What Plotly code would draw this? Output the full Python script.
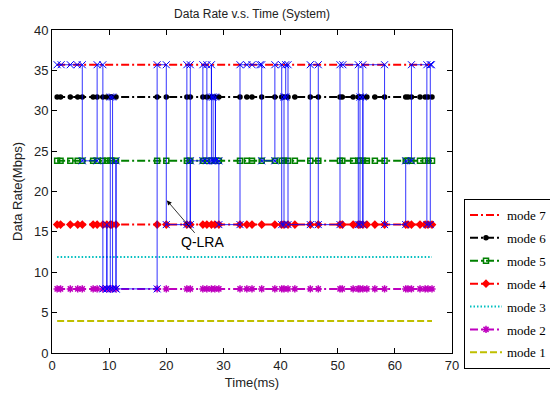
import plotly.graph_objects as go

# ---- data ----
mode_names = ["mode 7", "mode 6", "mode 5", "mode 4", "mode 3", "mode 2", "mode 1"]
mode_rates = [35.7, 31.7, 23.8, 15.9, 11.9, 7.94, 3.97]
mode_colors = ["#ff0000", "#000000", "#008000", "#ff0000", "#00bfbf", "#bf00bf", "#bfbf00"]

sample_times = [0.9, 1.5, 3.2, 4.5, 5.3, 7.2, 7.9, 8.9, 9.6, 10.2, 10.5, 11.2, 18.4, 20.0,
                23.6, 24.2, 26.4, 27.1, 27.9, 28.5, 29.2, 32.9, 34.1, 35.0, 36.7, 39.0,
                40.2, 40.6, 41.3, 42.5, 45.2, 46.6, 50.4, 50.8, 52.7, 53.6, 53.9, 54.4,
                55.1, 56.5, 58.2, 61.9, 62.3, 62.9, 64.4, 65.3, 65.8, 66.5]

# Q-LRA selected mode path (time, mode index into mode_rates)
qlra_times = [0.9, 1.6, 3.2, 4.4, 5.3, 5.3, 7.9, 7.9, 8.9, 8.9, 9.6, 9.6, 9.6, 10.2, 10.2,
              10.6, 10.6, 11.2, 11.2, 11.2, 18.4, 18.4, 20.0, 20.0, 23.6, 23.6, 24.2, 24.2,
              24.2, 26.4, 26.4, 27.1, 27.1, 27.9, 27.9, 27.9, 28.2, 28.2, 28.6, 28.6, 28.6,
              29.2, 29.2, 32.9, 32.9, 34.1, 35.0, 36.4, 36.7, 36.7, 39.0, 39.0, 40.2, 40.2,
              40.6, 40.6, 40.9, 40.9, 41.3, 41.3, 45.2, 45.2, 46.6, 46.6, 50.4, 50.4, 50.9,
              53.6, 53.6, 53.9, 53.9, 54.4, 54.4, 54.4, 58.2, 58.2, 61.9, 61.9, 62.9, 62.9,
              65.6, 65.6, 66.2, 66.2, 66.4]
qlra_modes = [0, 0, 0, 0, 0, 2, 2, 0, 0, 5, 5, 3, 5, 5, 1,
              1, 5, 5, 2, 5, 5, 0, 0, 3, 3, 0, 0, 3,
              2, 2, 0, 0, 2, 2, 0, 1, 1, 2, 2, 1, 2,
              2, 3, 3, 0, 0, 0, 0, 0, 2, 2, 0, 0, 3,
              3, 1, 1, 0, 0, 3, 3, 0, 0, 3, 3, 0, 0,
              0, 3, 3, 1, 1, 3, 0, 0, 3, 3, 2, 2, 0,
              0, 3, 3, 0, 0]

marker_symbols = [None, "circle", "square-open", "diamond", None, "asterisk-open", None]
marker_sizes = [0, 4, 5, 5, 0, 6, 0]
dash_styles = ["8px,3px,2px,3px", "8px,3px,2px,3px", "8px,3px,2px,3px", "8px,3px,2px,3px",
               "1.5px,2px", "8px,3px,2px,3px", "7px,3px"]

fig = go.Figure()
for i, name in enumerate(mode_names):
    ys = [mode_rates[i]] * len(sample_times)
    sym = marker_symbols[i]
    tr = dict(x=sample_times, y=ys, name=name, legendgroup=name,
              line=dict(color=mode_colors[i], width=2, dash=dash_styles[i]))
    if sym is None:
        tr["mode"] = "lines"
    else:
        tr["mode"] = "lines+markers"
        tr["marker"] = dict(symbol=sym, size=marker_sizes[i], color=mode_colors[i],
                            line=dict(color=mode_colors[i], width=1.5))
    fig.add_trace(go.Scatter(**tr))

fig.add_trace(go.Scatter(
    x=qlra_times, y=[mode_rates[m] for m in qlra_modes], mode="lines+markers",
    name="Q-LRA", showlegend=False,
    line=dict(color="rgba(0,0,255,0.8)", width=1),
    marker=dict(symbol="x-thin-open", size=7, color="#0000ff",
                line=dict(color="#0000ff", width=1))))

fig.add_annotation(x=20.1, y=18.9, ax=26.4, ay=13.7, axref="x", ayref="y",
                   xref="x", yref="y", text="Q-LRA", showarrow=True,
                   arrowhead=2, arrowsize=1.2, arrowwidth=0.8, arrowcolor="#000000",
                   font=dict(family="Arial, Liberation Sans", size=14, color="#000000"))

axis_common = dict(showline=True, linecolor="#000000", linewidth=1, mirror="ticks",
                   ticks="inside", ticklen=5, tickcolor="#000000", showgrid=False,
                   zeroline=False, automargin=False,
                   tickfont=dict(family="Arial, Liberation Sans", size=13, color="#222222"))

fig.update_xaxes(range=[0, 70], dtick=10, title=dict(text="Time(ms)", standoff=6,
                 font=dict(family="Arial, Liberation Sans", size=13, color="#222222")), **axis_common)
fig.update_yaxes(range=[0, 40], dtick=5, title=dict(text="Data Rate(Mbps)", standoff=8,
                 font=dict(family="Arial, Liberation Sans", size=13, color="#222222")), **axis_common)

fig.update_layout(
    width=550, height=390,
    margin=dict(l=44, r=106, t=22, b=45, autoexpand=False),
    paper_bgcolor="white", plot_bgcolor="white",
    title=dict(text="Data Rate v.s. Time (System)", x=244 / 550, xanchor="center",
               y=1 - 6 / 390, yanchor="middle",
               font=dict(family="Arial, Liberation Sans", size=12, color="#222222")),
    legend=dict(x=412 / 400, y=(345 - 191) / 323, xanchor="left", yanchor="top",
                bordercolor="#000000", borderwidth=1, bgcolor="white",
                traceorder="grouped", tracegroupgap=3, itemwidth=32,
                font=dict(family="Liberation Serif, Times New Roman", size=13, color="#000000")),
)

fig.write_html("out.html")
